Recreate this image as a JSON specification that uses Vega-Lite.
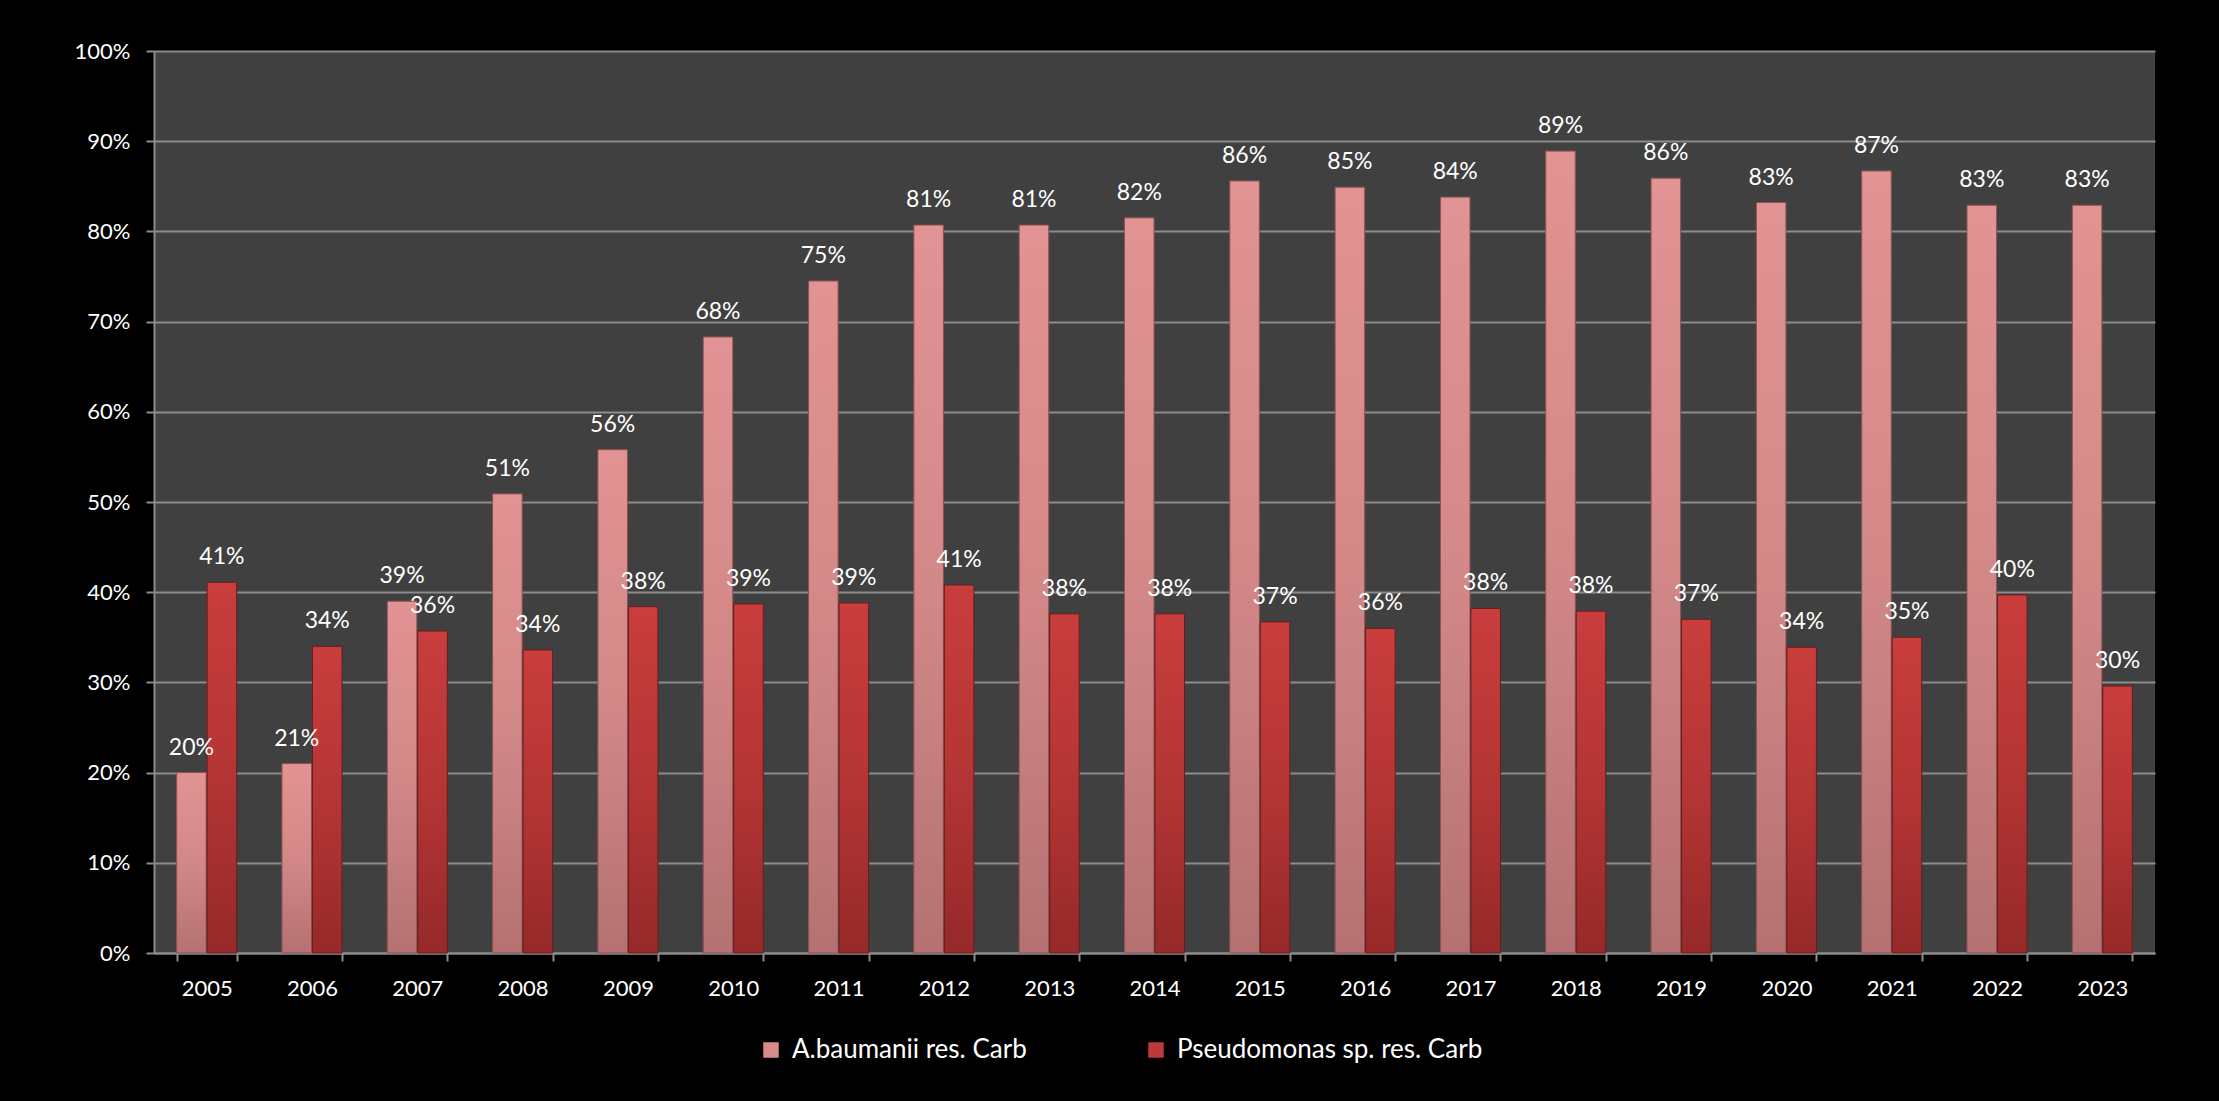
{
  "$schema": "https://vega.github.io/schema/vega-lite/v6.json",
  "width": 2001,
  "height": 902,
  "autosize": {"type": "none"},
  "padding": {"left": 154, "top": 51, "right": 64, "bottom": 148},
  "background": "#000000",
  "config": {
    "view": {"fill": "#404040", "stroke": null},
    "font": "Lato",
    "axis": {"labelFont": "Lato", "labelColor": "#ffffff"},
    "legend": {"labelFont": "Lato"}
  },
  "data": {
    "values": [
      {"year": "2005", "series": "A.baumanii res. Carb", "value": 0.200},
      {"year": "2006", "series": "A.baumanii res. Carb", "value": 0.210},
      {"year": "2007", "series": "A.baumanii res. Carb", "value": 0.390},
      {"year": "2008", "series": "A.baumanii res. Carb", "value": 0.509},
      {"year": "2009", "series": "A.baumanii res. Carb", "value": 0.558},
      {"year": "2010", "series": "A.baumanii res. Carb", "value": 0.683},
      {"year": "2011", "series": "A.baumanii res. Carb", "value": 0.745},
      {"year": "2012", "series": "A.baumanii res. Carb", "value": 0.807},
      {"year": "2013", "series": "A.baumanii res. Carb", "value": 0.807},
      {"year": "2014", "series": "A.baumanii res. Carb", "value": 0.815},
      {"year": "2015", "series": "A.baumanii res. Carb", "value": 0.856},
      {"year": "2016", "series": "A.baumanii res. Carb", "value": 0.849},
      {"year": "2017", "series": "A.baumanii res. Carb", "value": 0.838},
      {"year": "2018", "series": "A.baumanii res. Carb", "value": 0.889},
      {"year": "2019", "series": "A.baumanii res. Carb", "value": 0.859},
      {"year": "2020", "series": "A.baumanii res. Carb", "value": 0.832},
      {"year": "2021", "series": "A.baumanii res. Carb", "value": 0.867},
      {"year": "2022", "series": "A.baumanii res. Carb", "value": 0.829},
      {"year": "2023", "series": "A.baumanii res. Carb", "value": 0.829},
      {"year": "2005", "series": "Pseudomonas sp. res. Carb", "value": 0.411},
      {"year": "2006", "series": "Pseudomonas sp. res. Carb", "value": 0.340},
      {"year": "2007", "series": "Pseudomonas sp. res. Carb", "value": 0.357},
      {"year": "2008", "series": "Pseudomonas sp. res. Carb", "value": 0.336},
      {"year": "2009", "series": "Pseudomonas sp. res. Carb", "value": 0.384},
      {"year": "2010", "series": "Pseudomonas sp. res. Carb", "value": 0.387},
      {"year": "2011", "series": "Pseudomonas sp. res. Carb", "value": 0.388},
      {"year": "2012", "series": "Pseudomonas sp. res. Carb", "value": 0.408},
      {"year": "2013", "series": "Pseudomonas sp. res. Carb", "value": 0.376},
      {"year": "2014", "series": "Pseudomonas sp. res. Carb", "value": 0.376},
      {"year": "2015", "series": "Pseudomonas sp. res. Carb", "value": 0.367},
      {"year": "2016", "series": "Pseudomonas sp. res. Carb", "value": 0.360},
      {"year": "2017", "series": "Pseudomonas sp. res. Carb", "value": 0.382},
      {"year": "2018", "series": "Pseudomonas sp. res. Carb", "value": 0.379},
      {"year": "2019", "series": "Pseudomonas sp. res. Carb", "value": 0.370},
      {"year": "2020", "series": "Pseudomonas sp. res. Carb", "value": 0.339},
      {"year": "2021", "series": "Pseudomonas sp. res. Carb", "value": 0.350},
      {"year": "2022", "series": "Pseudomonas sp. res. Carb", "value": 0.397},
      {"year": "2023", "series": "Pseudomonas sp. res. Carb", "value": 0.296}
    ]
  },
  "encoding": {
    "x": {
      "field": "year",
      "type": "nominal",
      "title": null,
      "scale": {"paddingInner": 0.43, "paddingOuter": 0.215},
      "axis": {
        "labelAngle": 0,
        "labelFontSize": 22,
        "labelPadding": 17,
        "tickBand": "extent",
        "tickSize": 8,
        "tickColor": "#8c8c8c",
        "tickWidth": 2,
        "domainColor": "#8c8c8c",
        "domainWidth": 2,
        "grid": false
      }
    },
    "xOffset": {
      "field": "series",
      "type": "nominal",
      "scale": {"domain": ["A.baumanii res. Carb", "Pseudomonas sp. res. Carb"], "paddingInner": 0.03}
    },
    "y": {
      "field": "value",
      "type": "quantitative",
      "title": null,
      "scale": {"domain": [0, 1]},
      "axis": {
        "format": ".0%",
        "values": [0, 0.1, 0.2, 0.3, 0.4, 0.5, 0.6, 0.7, 0.8, 0.9, 1],
        "labelFontSize": 22,
        "labelPadding": 16,
        "tickSize": 8,
        "tickColor": "#8c8c8c",
        "tickWidth": 2,
        "domainColor": "#8c8c8c",
        "domainWidth": 2,
        "grid": true,
        "gridColor": "#8c8c8c",
        "gridWidth": 2
      }
    }
  },
  "layer": [
    {
      "transform": [{"filter": "datum.series === 'A.baumanii res. Carb'"}],
      "mark": {
        "type": "bar",
        "fill": {
          "gradient": "linear", "x1": 0, "y1": 0, "x2": 0, "y2": 1,
          "stops": [
            {"offset": 0, "color": "#e29393"},
            {"offset": 0.5, "color": "#d38888"},
            {"offset": 1, "color": "#b57171"}
          ]
        },
        "stroke": "#8e5252",
        "strokeWidth": 1
      },
      "encoding": {
        "color": {
          "field": "series",
          "type": "nominal",
          "scale": {"domain": ["A.baumanii res. Carb", "Pseudomonas sp. res. Carb"], "range": ["#d98a8a", "#c0393a"]},
          "legend": {
            "title": null,
            "orient": "none",
            "direction": "horizontal",
            "legendX": 604,
            "legendY": 986,
            "symbolType": "square",
            "symbolSize": 240,
            "symbolStrokeWidth": 0,
            "labelFontSize": 26,
            "labelLimit": 1000,
            "labelColor": "#ffffff",
            "labelOffset": 8,
            "columnPadding": 116
          }
        }
      }
    },
    {
      "transform": [{"filter": "datum.series === 'Pseudomonas sp. res. Carb'"}],
      "mark": {
        "type": "bar",
        "fill": {
          "gradient": "linear", "x1": 0, "y1": 0, "x2": 0, "y2": 1,
          "stops": [
            {"offset": 0, "color": "#c93d3d"},
            {"offset": 0.5, "color": "#b53535"},
            {"offset": 1, "color": "#962929"}
          ]
        },
        "stroke": "#6a1c1c",
        "strokeWidth": 1
      },
      "encoding": {
        "color": {
          "field": "series",
          "type": "nominal",
          "scale": {"domain": ["A.baumanii res. Carb", "Pseudomonas sp. res. Carb"], "range": ["#d98a8a", "#c0393a"]}
        }
      }
    },
    {
      "mark": {"type": "text", "baseline": "alphabetic", "dy": -18, "fontSize": 23, "color": "#ffffff", "font": "Lato"},
      "encoding": {
        "text": {"field": "value", "type": "quantitative", "format": ".0%"}
      }
    }
  ]
}
